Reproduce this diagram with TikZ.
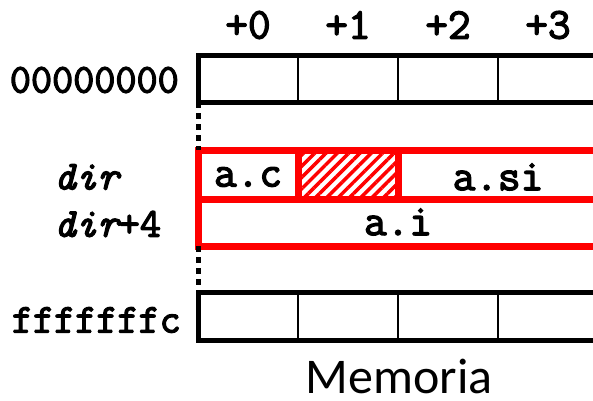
\documentclass[tikz,border=0pt]{standalone}
\usepackage{fontspec}
\newfontfamily\memfont{Carlito}
\newfontfamily\codefont{Latin Modern Mono}[FakeBold=3]
\usetikzlibrary{patterns.meta}

\begin{document}
\begin{tikzpicture}[x=1pt,y=-1pt,
  lbl/.style={font=\fontsize{41}{41}\selectfont\codefont\bfseries, inner sep=0pt},
  fld/.style={font=\fontsize{44}{44}\selectfont\codefont\bfseries, inner sep=0pt},
  row/.style={line width=5pt},
  sep/.style={line width=2pt},
  redrow/.style={red, line width=7pt},
  gap/.style={line width=5pt, dash pattern=on 6pt off 5pt}]
\useasboundingbox (0,0) rectangle (593,400);
% offsets
\foreach \i in {0,...,3}
  \node[fld] (off\i) at (248+100*\i,25) {+\i};
% first word
\draw[row] (198,55) rectangle (620,102);
\foreach \x in {298,398,498}
  \draw[sep] (\x,55) -- (\x,102);
\node[lbl, anchor=east] (first) at (179,80) {00000000};
\coordinate (firstbot) at (198,102);
% the struct
\fill[pattern={Lines[angle=45,distance=8pt,line width=3.5pt]}, pattern color=red] (298,150) rectangle (398,199);
\draw[redrow] (198,150) rectangle (620,246);
\draw[redrow] (198,199) -- (620,199);
\draw[redrow] (298,150) -- (298,199);
\draw[redrow] (398,150) -- (398,199);
\coordinate (structtop) at (198,150);
\coordinate (structbot) at (198,246);
\node[fld] (ac) at (248,177) {a.c};
\node[fld] (asi) at (498,177) {a.si};
\node[fld] (ai) at (398,222) {a.i};
\node[lbl, anchor=west] (dir) at (54,177) {{\itshape dir}};
\node[lbl, anchor=west] (dir4) at (54,224) {{\itshape dir}+4};
% last word
\draw[row] (198,292) rectangle (620,340);
\foreach \x in {298,398,498}
  \draw[sep] (\x,292) -- (\x,340);
\node[lbl, anchor=east] (last) at (181,320) {fffffffc};
\coordinate (lasttop) at (198,292);
% gaps
\draw[gap] (firstbot) -- (structtop);
\draw[gap] (structbot) -- (lasttop);
\node[font=\fontsize{50}{50}\selectfont\memfont, inner sep=0pt] (mem) at (399,376) {Memoria};
\end{tikzpicture}
\end{document}
